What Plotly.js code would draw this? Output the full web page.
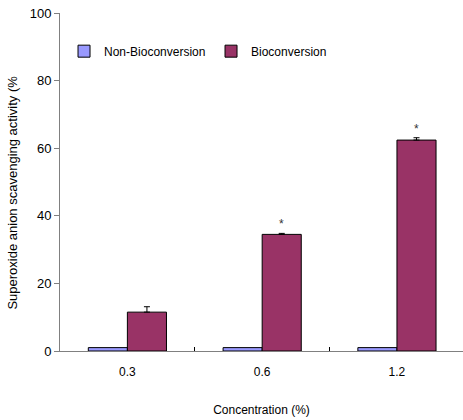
<!DOCTYPE html>
<html>
<head>
<meta charset="utf-8">
<script src="https://cdn.plot.ly/plotly-3.0.1.min.js"></script>
<style>html,body{margin:0;padding:0;background:#fff;}#chart{width:463px;height:420px;}</style>
</head>
<body>
<div id="chart"></div>
<script>
var categories = ["0.3", "0.6", "1.2"];
var nonBio = [1.0, 1.0, 1.0];
var bio = [11.5, 34.5, 62.4];
var bioErr = [1.6, 0.3, 0.7];
var starLabels = ["", "*", "*"];
var starY = [0, 37.6, 65.6];
var yTicks = [0, 20, 40, 60, 80, 100];

var font = "Liberation Sans, Arial, sans-serif";

var traces = [
  {
    type: "bar", name: "Non-Bioconversion", x: categories, y: nonBio,
    marker: {color: "#9999FF", line: {color: "#000", width: 1}}
  },
  {
    type: "bar", name: "Bioconversion", x: categories, y: bio,
    marker: {color: "#993366", line: {color: "#000", width: 1}},
    error_y: {type: "data", symmetric: false, array: bioErr, arrayminus: [0, 0, 0],
      color: "#000", thickness: 1, width: 3}
  }
];

var annotations = [];
for (var i = 0; i < categories.length; i++) {
  if (starLabels[i]) {
    annotations.push({x: i, y: starY[i], xref: "x", yref: "y", text: starLabels[i],
      showarrow: false, xshift: 19.5, font: {family: font, size: 12, color: "#333"}});
  }
}
annotations.push({xref: "paper", yref: "paper", x: -0.118, y: 0.47, xanchor: "center", yanchor: "middle",
  text: "Superoxide anion scavenging activity (%", textangle: -90, showarrow: false,
  font: {family: font, size: 13, color: "#000"}});

var layout = {
  width: 463, height: 420,
  margin: {l: 60, r: 0, t: 13, b: 69},
  paper_bgcolor: "#fff", plot_bgcolor: "#fff",
  barmode: "group", bargap: 0.42, bargroupgap: 0,
  font: {family: font, size: 12, color: "#000"},
  showlegend: true,
  legend: {orientation: "h", x: 0.01, y: 0.93, xanchor: "left", yanchor: "top", itemwidth: 30,
    entrywidth: 102,
    font: {family: font, size: 12, color: "#000"}, bgcolor: "rgba(0,0,0,0)", traceorder: "normal"},
  xaxis: {
    type: "category", range: [-0.5, 2.49], showgrid: false, zeroline: false,
    showline: true, linecolor: "#808080", linewidth: 1,
    ticks: "inside", tickson: "boundaries", ticklen: 4, tickcolor: "#000",
    ticklabelstandoff: 10,
    tickfont: {family: font, size: 12, color: "#000"},
    title: {text: "Concentration (%)", font: {family: font, size: 12, color: "#000"}, standoff: 27}
  },
  yaxis: {
    range: [0, 100], tickvals: yTicks, showgrid: false, zeroline: false,
    showline: true, linecolor: "#808080", linewidth: 1,
    ticks: "outside", ticklen: 5, tickcolor: "#808080",
    tickfont: {family: font, size: 13, color: "#000"}
  },
  annotations: annotations
};

Plotly.newPlot("chart", traces, layout, {displayModeBar: false, staticPlot: true});
</script>
</body>
</html>
